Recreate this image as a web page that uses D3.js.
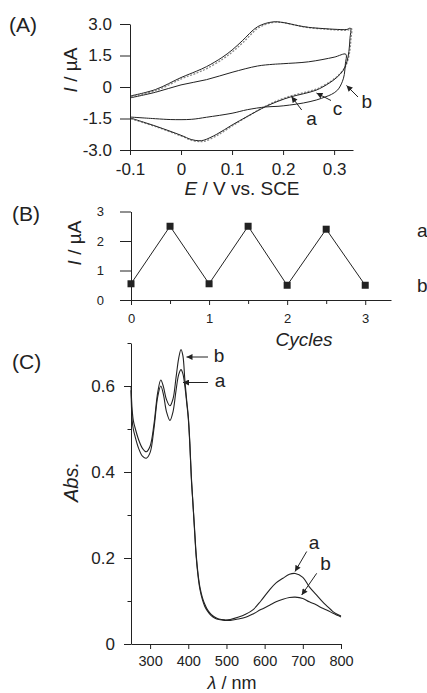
<!DOCTYPE html>
<html><head><meta charset="utf-8">
<script src="https://cdn.jsdelivr.net/npm/d3@7"></script>
<style>
html,body{margin:0;padding:0;background:#fff;}
svg{display:block;font-family:"Liberation Sans",Arial,sans-serif;}
</style></head><body>
<svg id="chart" width="427" height="693"></svg>
<script>
// ---------- Panel A: cyclic voltammograms ----------
const cvA_E = [-0.1,-0.05,0,0.03,0.05,0.08,0.1,0.12,0.15,0.18,0.2,0.23,0.25,0.28,0.3,0.325,0.332,
  0.331,0.329,0.325,0.318,0.305,0.29,0.265,0.24,0.215,0.19,0.166,0.13,0.1,0.07,0.045,0.035,0.02,0,-0.05,-0.1];
const cvA_I = [-0.43,-0.12,0.45,0.75,0.97,1.4,1.76,2.2,2.87,3.1,3.07,2.92,2.84,2.78,2.75,2.74,2.8,
  2.3,1.7,1.2,0.8,0.45,0.18,-0.15,-0.32,-0.47,-0.68,-0.93,-1.4,-1.81,-2.25,-2.53,-2.56,-2.5,-2.3,-1.86,-1.47];
const cvC_I = [-0.47,-0.16,0.4,0.68,0.9,1.33,1.7,2.13,2.82,3.08,3.06,2.9,2.82,2.76,2.72,2.71,2.78,
  2.3,1.75,1.28,0.88,0.53,0.25,-0.08,-0.26,-0.41,-0.62,-0.88,-1.38,-1.83,-2.29,-2.58,-2.6,-2.55,-2.35,-1.9,-1.52];
const cvB_E = [-0.1,-0.05,0,0.05,0.1,0.15,0.18,0.2,0.25,0.3,0.323,
  0.322,0.32,0.316,0.307,0.295,0.284,0.265,0.24,0.213,0.19,0.166,0.13,0.1,0.05,0.02,-0.02,-0.05,-0.1];
const cvB_I = [-0.52,-0.25,0.1,0.35,0.7,1.0,1.08,1.11,1.2,1.42,1.56,
  1.1,0.6,0.25,-0.14,-0.35,-0.46,-0.62,-0.76,-0.86,-0.92,-0.95,-1.08,-1.25,-1.44,-1.54,-1.55,-1.51,-1.43];
const aXTicks = [-0.1,0,0.1,0.2,0.3];
const aXTickLabels = ["-0.1","0","0.1","0.2","0.3"];
const aYTicks = [-3,-1.5,0,1.5,3];
const aYTickLabels = ["-3.0","-1.5","0","1.5","3.0"];

// ---------- Panel B: switching cycles ----------
const cycles = [0,0.5,1,1.5,2,2.5,3];
const cycleCurrent = [0.55,2.5,0.55,2.5,0.5,2.4,0.5];
const bXTicks = [0,1,2,3];
const bXMinor = [0.5,1.5,2.5];
const bYTicks = [0,1,2,3];

// ---------- Panel C: absorption spectra ----------
const wavelength = [250,253,256,260,270,280,290,300,310,320,328,335,343,352,360,368,375,381,386,391,396,400,404,408,412,416,421,426,431,437,443,450,460,470,480,495,510,530,550,570,590,613,630,648,665,680,700,717,735,752,765,778,790,800];
const absB = [0.60,0.545,0.52,0.505,0.475,0.455,0.447,0.46,0.51,0.585,0.614,0.598,0.568,0.554,0.57,0.62,0.665,0.685,0.67,0.615,0.565,0.53,0.47,0.39,0.33,0.27,0.2,0.155,0.125,0.103,0.088,0.077,0.066,0.06,0.057,0.055,0.055,0.058,0.062,0.07,0.08,0.09,0.098,0.104,0.108,0.109,0.106,0.098,0.091,0.083,0.078,0.072,0.067,0.063];
const absA = [0.59,0.52,0.5,0.485,0.455,0.437,0.432,0.445,0.5,0.575,0.6,0.58,0.54,0.52,0.54,0.59,0.627,0.638,0.628,0.6,0.56,0.525,0.465,0.385,0.33,0.275,0.205,0.16,0.13,0.108,0.093,0.08,0.069,0.062,0.058,0.056,0.057,0.062,0.069,0.08,0.1,0.126,0.142,0.153,0.162,0.164,0.155,0.133,0.115,0.098,0.087,0.076,0.069,0.065];
const cXTicks = [300,400,500,600,700,800];
const cYTicks = [0,0.2,0.4,0.6];
const cYMinor = [0.1,0.3,0.5,0.7];

const INK = "#222";
const svg = d3.select("#chart");
svg.append("defs").append("marker")
  .attr("id","arr").attr("viewBox","0 0 10 10").attr("refX",10).attr("refY",5)
  .attr("markerWidth",7).attr("markerHeight",6).attr("markerUnits","userSpaceOnUse")
  .attr("orient","auto")
  .append("path").attr("d","M0,0 L10,5 L0,10 Z").attr("fill",INK);

function styleAxis(g, fs){
  g.select(".domain").attr("stroke",INK).attr("stroke-width",1);
  g.selectAll(".tick line").attr("stroke",INK).attr("stroke-width",1);
  g.selectAll(".tick text").attr("fill",INK).attr("font-size",fs+"px")
    .attr("font-family","'Liberation Sans',Arial,sans-serif");
}
function label(x,y,parts,fs,rot,anchor){
  const t = svg.append("text").attr("font-size",fs+"px").attr("fill",INK)
    .attr("text-anchor",anchor||"middle");
  if(rot) t.attr("transform",`translate(${x},${y}) rotate(-90)`);
  else t.attr("x",x).attr("y",y);
  parts.forEach(p=>t.append("tspan").attr("font-style",p[1]?"italic":"normal").text(p[0]));
  return t;
}
function arrow(x1,y1,x2,y2){
  svg.append("line").attr("x1",x1).attr("y1",y1).attr("x2",x2).attr("y2",y2)
    .attr("stroke",INK).attr("stroke-width",1).attr("marker-end","url(#arr)");
}

// ===== Panel A =====
const xA = d3.scaleLinear().domain([-0.1,0.337]).range([130,353]);
const yA = d3.scaleLinear().domain([-3,3]).range([150,24]);
svg.append("g").attr("transform","translate(0,150)")
  .call(d3.axisBottom(xA).tickValues(aXTicks).tickFormat((d,i)=>aXTickLabels[i]).tickSize(5).tickSizeOuter(0).tickPadding(8))
  .call(g=>styleAxis(g,17));
svg.append("g").attr("transform","translate(130,0)")
  .call(d3.axisLeft(yA).tickValues(aYTicks).tickFormat((d,i)=>aYTickLabels[i]).tickSize(10).tickSizeOuter(0).tickPadding(8))
  .call(g=>styleAxis(g,17));
const lineA = d3.line().x(d=>xA(d[0])).y(d=>yA(d[1])).curve(d3.curveCatmullRom.alpha(0.5));
svg.append("path").attr("d",lineA(cvA_E.map((e,i)=>[e+0.002,cvC_I[i]])))
  .attr("fill","none").attr("stroke","#8a8a8a").attr("stroke-width",1.3).attr("stroke-dasharray","2,1.5");
svg.append("path").attr("d",lineA(cvA_E.map((e,i)=>[e,cvA_I[i]])))
  .attr("fill","none").attr("stroke",INK).attr("stroke-width",1);
svg.append("path").attr("d",lineA(cvB_E.map((e,i)=>[e,cvB_I[i]])))
  .attr("fill","none").attr("stroke",INK).attr("stroke-width",1);
label(9,32,[["(A)",0]],21,false,"start");
label(77,70,[["I",1],[" / µA",0]],19,true);
label(242,195,[["E",1],[" / V vs. SCE",0]],19);
arrow(301.7,110,291.5,96.5);
arrow(331,100.5,316.5,93);
arrow(358,97,346.5,85.5);
label(311.5,125,[["a",0]],19);
label(337.5,115,[["c",0]],19);
label(366.7,108.3,[["b",0]],19);

// ===== Panel B =====
const xB = d3.scaleLinear().domain([0,3.33]).range([131,391]);
const yB = d3.scaleLinear().domain([0,3]).range([300,211.5]);
svg.append("g").attr("transform","translate(0,300)")
  .call(d3.axisBottom(xB).tickValues(bXTicks).tickFormat(d3.format("d")).tickSize(5).tickSizeOuter(0).tickPadding(9))
  .call(g=>styleAxis(g,13));
svg.append("g").attr("transform","translate(0,300)")
  .call(d3.axisBottom(xB).tickValues(bXMinor).tickFormat("").tickSize(4).tickSizeOuter(0))
  .call(g=>{styleAxis(g,13); g.select(".domain").remove();});
svg.append("g").attr("transform","translate(131,0)")
  .call(d3.axisLeft(yB).tickValues(bYTicks).tickFormat(d3.format("d")).tickSize(11).tickSizeOuter(0).tickPadding(16))
  .call(g=>styleAxis(g,13));
const ptsB = cycles.map((c,i)=>[c,cycleCurrent[i]]);
svg.append("path").attr("d",d3.line().x(d=>xB(d[0])).y(d=>yB(d[1]))(ptsB))
  .attr("fill","none").attr("stroke",INK).attr("stroke-width",1);
svg.selectAll("rect.pt").data(ptsB).enter().append("rect").attr("class","pt")
  .attr("x",d=>xB(d[0])-3.5).attr("y",d=>yB(d[1])-3.5).attr("width",7).attr("height",7).attr("fill",INK);
label(12,221,[["(B)",0]],21,false,"start");
label(81,243,[["I",1],[" / µA",0]],19,true);
label(304,346,[["Cycles",1]],19);
label(417,236.5,[["a",0]],19,false,"start");
label(417,291.5,[["b",0]],19,false,"start");

// ===== Panel C =====
const xC = d3.scaleLinear().domain([250,800]).range([131,341]);
const yC = d3.scaleLinear().domain([0,0.7]).range([644,343]);
svg.append("g").attr("transform","translate(0,644)")
  .call(d3.axisBottom(xC).tickValues(cXTicks).tickFormat(d3.format("d")).tickSize(5).tickSizeOuter(0).tickPadding(7))
  .call(g=>styleAxis(g,14.5));
svg.append("g").attr("transform","translate(131,0)")
  .call(d3.axisLeft(yC).tickValues(cYTicks).tickFormat(d=>d===0?"0":d3.format(".1f")(d)).tickSize(7).tickSizeOuter(0).tickPadding(9))
  .call(g=>styleAxis(g,17));
svg.append("g").attr("transform","translate(131,0)")
  .call(d3.axisLeft(yC).tickValues(cYMinor).tickFormat("").tickSize(3.5).tickSizeOuter(0))
  .call(g=>{styleAxis(g,17); g.select(".domain").remove();});
const lineC = d3.line().x(d=>xC(d[0])).y(d=>yC(d[1])).curve(d3.curveCatmullRom.alpha(0.5));
svg.append("path").attr("d",lineC(wavelength.map((w,i)=>[w,absA[i]])))
  .attr("fill","none").attr("stroke",INK).attr("stroke-width",1.1);
svg.append("path").attr("d",lineC(wavelength.map((w,i)=>[w,absB[i]])))
  .attr("fill","none").attr("stroke",INK).attr("stroke-width",1.1);
label(12,369,[["(C)",0]],21,false,"start");
label(78,482,[["Abs.",1]],20,true);
label(232,689,[["λ",1],[" / nm",0]],18);
arrow(208,357,186.5,357);
arrow(208,382.5,183,382.5);
label(219,361.7,[["b",0]],19);
label(220,386.7,[["a",0]],19);
arrow(306.7,551.5,295,571.5);
arrow(316.7,573.3,301.7,595);
label(314,549,[["a",0]],19);
label(325.5,570,[["b",0]],19);
</script>
</body></html>
